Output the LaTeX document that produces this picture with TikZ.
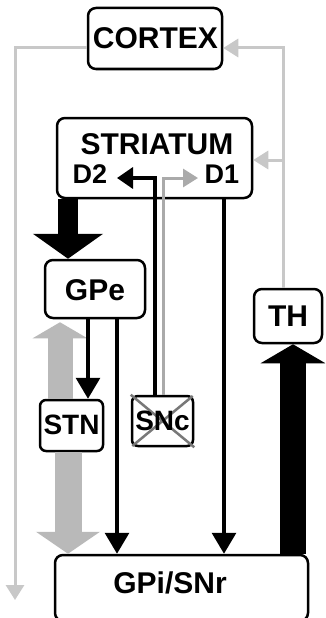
\documentclass[tikz,border=0pt]{standalone}
\usepackage{fontspec}
\setmainfont{Liberation Sans}
\usetikzlibrary{arrows.meta,calc}
\definecolor{loopgray}{RGB}{200,200,200}
\definecolor{stngray}{RGB}{185,185,185}
\definecolor{shadowgray}{RGB}{170,170,170}
\definecolor{crossgray}{RGB}{120,120,120}
\begin{document}
\begin{tikzpicture}[x=1pt,y=-1pt,
  box/.style={draw=black, line width=2.5pt, rounded corners=8pt, fill=white, inner sep=0pt},
  lbl/.style={font=\fontsize{30}{30}\selectfont\bfseries, inner sep=0pt},
  dlbl/.style={font=\fontsize{27}{27}\selectfont\bfseries, inner sep=0pt},
  loopline/.style={draw=loopgray, line width=3pt},
  grayhead/.style={-{Triangle[width=18pt,length=15pt]}},
  blk/.style={draw=black, line width=3.2pt, -{Triangle[width=24pt,length=21pt]}},
]
\useasboundingbox (0,0) rectangle (325,618);
\clip (0,0) rectangle (325,618);
\fill[white] (0,0) rectangle (325,618);

% boxes
\node[box, minimum width=134pt, minimum height=61pt] (cortex) at (155,38.5) {};
\node[lbl] (cortext) at (155.5,38) {CORTEX};
\node[box, minimum width=195pt, minimum height=80pt] (striatum) at (154.5,158) {};
\node[lbl] (strtext) at (157,144) {STRIATUM};
\node[dlbl] (d2) at (90,174) {D2};
\node[dlbl] (d1) at (222,174) {D1};
\node[box, minimum width=100pt, minimum height=58pt] (gpe) at (95,289) {};
\node[lbl] (gpetext) at (95,290) {GPe};
\node[box, minimum width=63pt, minimum height=51pt, rounded corners=6pt] (stn) at (71.5,425.5) {};
\node[lbl, font=\fontsize{28}{28}\selectfont\bfseries] (stntext) at (71.5,425) {STN};
\node[box, minimum width=61pt, minimum height=50pt, rounded corners=6pt] (snc) at (162.5,421) {};
\draw[crossgray, line width=2.5pt, shorten <=2pt, shorten >=2pt] (snc.north west) -- (snc.south east) (snc.north east) -- (snc.south west);
\node[lbl, font=\fontsize{28}{28}\selectfont\bfseries] (snctext) at (162.5,421) {SNc};
\node[box, minimum width=68pt, minimum height=54pt] (th) at (288,316) {};
\node[lbl] (thtext) at (288,316) {TH};
\node[box, minimum width=253pt, minimum height=66pt] (gpi) at (181.5,588) {};
\node[lbl] (gpitext) at (170,583) {GPi/SNr};

% helper coordinates
\coordinate (yc) at (0,48);
\coordinate (ys) at (0,160);
\coordinate (xr) at (283,0);
\coordinate (lend) at (15,600);
\coordinate (xs) at (155,0);
\coordinate (xg) at (163,0);
\coordinate (yi) at (0,178);
\coordinate (d2tip) at (117,178);
\coordinate (d1tip) at (198,178);
\coordinate (xa) at (68,0);
\coordinate (xt) at (293,0);
\coordinate (x1) at (88,0);
\coordinate (x2) at (117,0);
\coordinate (x3) at (224,0);
\coordinate (xu) at (60,0);
\coordinate (xd) at (68,0);

% cortex loop (gray)
\draw[loopline, grayhead] (cortex.west |- yc) -| (lend);
\draw[loopline, grayhead] (th.north -| xr) |- (cortex.east |- yc);
\draw[loopline, grayhead] (xr |- ys) -- (striatum.east |- ys);

% SNc projections
\draw[draw=shadowgray, line width=3pt, -{Triangle[width=18pt,length=15pt]}] (snc.north -| xg) -- (xg |- yi) -- (d1tip);
\draw[black, line width=3.5pt, -{Triangle[width=21pt,length=16pt]}] (snc.north -| xs) |- (d2tip);

% thick arrows
\draw[black, line width=20pt, -{Triangle[width=69pt,length=25pt]}] (striatum.south -| xa) -- (gpe.north -| xa);
\draw[black, line width=26pt, -{Triangle[width=64pt,length=19pt]}] (gpi.north -| xt) -- (th.south -| xt);
\draw[stngray, line width=25pt, -{Triangle[width=54pt,length=16pt]}] (stn.north -| xu) -- ([yshift=-3pt]gpe.south -| xu);
\draw[stngray, line width=27pt, -{Triangle[width=63pt,length=22pt]}] (stn.south -| xd) -- (gpi.north -| xd);

% thin black arrows
\draw[blk] (gpe.south -| x1) -- (stn.north -| x1);
\draw[blk] (gpe.south -| x2) -- (gpi.north -| x2);
\draw[blk] (striatum.south -| x3) -- (gpi.north -| x3);
\end{tikzpicture}
\end{document}
